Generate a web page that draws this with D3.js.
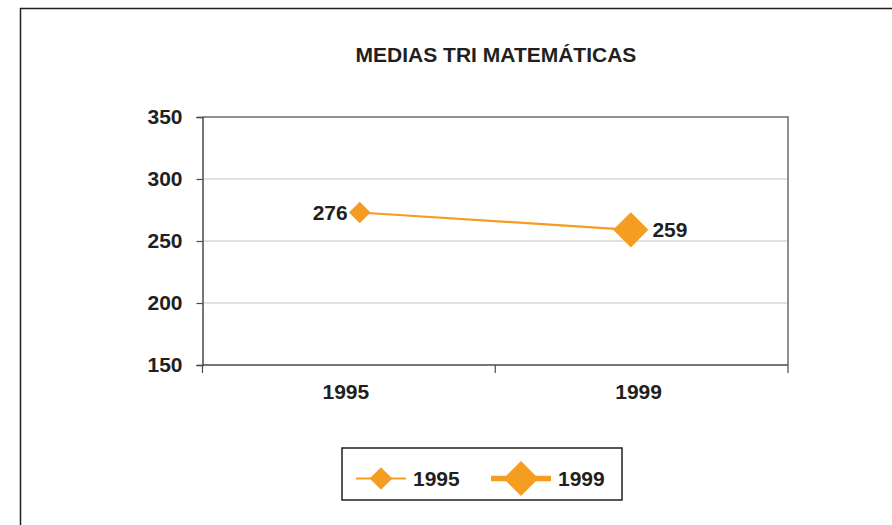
<!DOCTYPE html>
<html>
<head>
<meta charset="utf-8">
<script src="https://cdn.jsdelivr.net/npm/d3@7"></script>
<style>
  body { margin: 0; background: #fff; }
  svg text { font-family: "Liberation Sans", Arial, sans-serif; font-weight: bold; fill: #231f20; }
</style>
</head>
<body>
<div id="chart"></div>
<script>
// data
const years = ["1995", "1999"];
const medias = [273, 259];          // plotted positions
const mediaLabels = ["276", "259"]; // printed labels
const yTicks = [150, 200, 250, 300, 350];
const title = "MEDIAS TRI MATEMÁTICAS";

const W = 892, H = 525;
const orange = "#f59d20";
const markerHalf = [10.8, 17.6];
const legendLineW = [2, 5.3];

const svg = d3.select("#chart").append("svg")
  .attr("width", W).attr("height", H);

// outer frame (runs off right and bottom)
svg.append("rect")
  .attr("x", 20.5).attr("y", 8.5)
  .attr("width", W).attr("height", H)
  .attr("fill", "none").attr("stroke", "#231f20").attr("stroke-width", 1.5);

svg.append("text")
  .attr("x", 496).attr("y", 62)
  .attr("text-anchor", "middle")
  .style("font-size", "21px")
  .text(title);

const plot = { left: 202.5, top: 117, right: 788, bottom: 365 };

const y = d3.scaleLinear().domain([150, 350]).range([plot.bottom, plot.top]);
const xBand = d3.scaleBand().domain(years).range([plot.left, plot.right]);
const xPt = d3.scalePoint().domain(years).range([plot.left, plot.right]).padding(0.58);

const g = svg.append("g");

// gridlines
g.selectAll(".grid").data(yTicks.filter(t => t > 150 && t < 350)).enter()
  .append("line")
  .attr("x1", plot.left).attr("x2", plot.right)
  .attr("y1", d => y(d)).attr("y2", d => y(d))
  .attr("stroke", "#c4c4c4").attr("stroke-width", 1.2);

// plot area border top/right
g.append("path")
  .attr("d", `M${plot.left},${y(350)}H${plot.right}V${plot.bottom}`)
  .attr("fill", "none").attr("stroke", "#6d6d6d").attr("stroke-width", 1.5);

// y axis
g.append("g")
  .attr("transform", `translate(${plot.left},0)`)
  .call(d3.axisLeft(y).tickValues(yTicks).tickSize(6).tickPadding(14))
  .call(a => a.select(".domain").attr("stroke", "#4a4a4a").attr("stroke-width", 1.5))
  .call(a => a.selectAll("line").attr("stroke", "#4a4a4a").attr("stroke-width", 1.2))
  .call(a => a.selectAll("text").style("font-size", "21px").attr("fill", "#231f20")
    .attr("font-family", null));

// x axis with category boundary ticks
const xAxis = g.append("g").attr("transform", `translate(0,${plot.bottom})`);
xAxis.append("line")
  .attr("x1", plot.left).attr("x2", plot.right)
  .attr("stroke", "#4a4a4a").attr("stroke-width", 1.5);
const bounds = years.map(d => xBand(d)).concat([xBand(years[years.length - 1]) + xBand.bandwidth()]);
xAxis.selectAll(".bt").data(bounds).enter().append("line")
  .attr("x1", d => d).attr("x2", d => d)
  .attr("y1", 0).attr("y2", 8)
  .attr("stroke", "#4a4a4a").attr("stroke-width", 1.2);
xAxis.selectAll(".xl").data(years).enter().append("text")
  .attr("x", d => xBand(d) + xBand.bandwidth() / 2 - 3)
  .attr("y", 34)
  .attr("text-anchor", "middle")
  .style("font-size", "21px")
  .text(d => d);

// series line
const pts = years.map((d, i) => ({ year: d, v: medias[i], label: mediaLabels[i], i }));
g.append("path").datum(pts)
  .attr("d", d3.line().x(d => xPt(d.year)).y(d => y(d.v)))
  .attr("fill", "none").attr("stroke", orange).attr("stroke-width", 2.2);

const diamond = r => `M0,${-r}L${r},0L0,${r}L${-r},0Z`;

g.selectAll(".mk").data(pts).enter().append("path")
  .attr("transform", d => `translate(${xPt(d.year)},${y(d.v)})`)
  .attr("d", d => diamond(markerHalf[d.i]))
  .attr("fill", orange);

g.selectAll(".lbl").data(pts).enter().append("text")
  .attr("x", d => xPt(d.year) + (d.i === 0 ? -12 : markerHalf[d.i] + 4))
  .attr("y", d => y(d.v) + 7.5)
  .attr("text-anchor", d => d.i === 0 ? "end" : "start")
  .style("font-size", "21px")
  .text(d => d.label);

// legend
const leg = svg.append("g");
leg.append("rect")
  .attr("x", 342).attr("y", 448)
  .attr("width", 280).attr("height", 52)
  .attr("fill", "#fff").attr("stroke", "#231f20").attr("stroke-width", 1.5);

const legX = [356, 491];
const legLen = [50, 60];
years.forEach((d, i) => {
  const cy = 478.5;
  leg.append("line")
    .attr("x1", legX[i]).attr("x2", legX[i] + legLen[i])
    .attr("y1", cy).attr("y2", cy)
    .attr("stroke", orange).attr("stroke-width", legendLineW[i]);
  leg.append("path")
    .attr("transform", `translate(${legX[i] + legLen[i] / 2},${cy})`)
    .attr("d", diamond(i === 0 ? 11.3 : 17.5))
    .attr("fill", orange);
  leg.append("text")
    .attr("x", legX[i] + legLen[i] + 7)
    .attr("y", 486)
    .style("font-size", "21px")
    .text(d);
});
</script>
</body>
</html>
